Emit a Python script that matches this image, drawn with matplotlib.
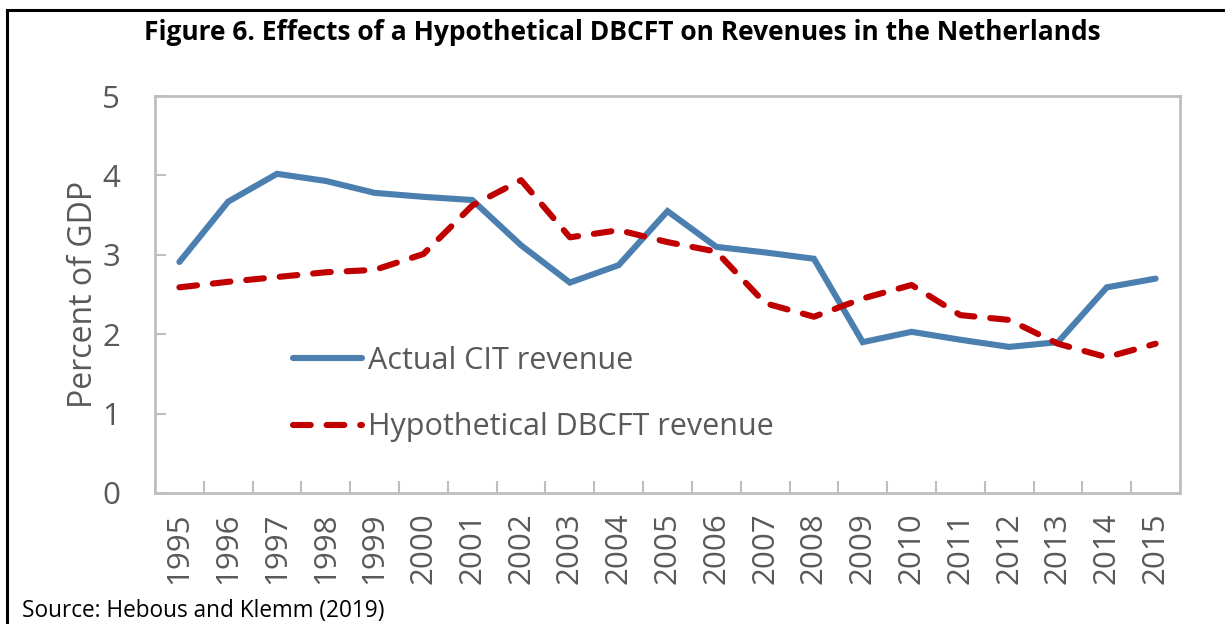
import matplotlib
matplotlib.use("Agg")
import matplotlib.pyplot as plt
from matplotlib.lines import Line2D

years = [str(y) for y in range(1995, 2016)]
actual_cit = [2.91, 3.67, 4.02, 3.93, 3.78, 3.73, 3.69, 3.12, 2.65, 2.87, 3.55,
              3.10, 3.03, 2.95, 1.90, 2.03, 1.93, 1.84, 1.90, 2.59, 2.70]
hypo_dbcft = [2.59, 2.66, 2.72, 2.78, 2.81, 3.01, 3.62, 3.94, 3.22, 3.31, 3.16,
              3.04, 2.39, 2.22, 2.45, 2.62, 2.24, 2.18, 1.88, 1.71, 1.88]
yticks = [0, 1, 2, 3, 4, 5]

TXT = "#595959"
SPINE = "#bfbfbf"
plt.rcParams['font.family'] = ['Open Sans', 'DejaVu Sans']

fig = plt.figure(figsize=(12.25, 6.24), dpi=100)
ax = fig.add_axes([155/1225, 1-493/624, (1180-155)/1225, (493-96)/624])

x = list(range(len(years)))
ax.plot(x, actual_cit, color="#4a7fb0", lw=4.4, solid_capstyle="round",
        solid_joinstyle="miter", label="Actual CIT revenue")
ax.plot(x, hypo_dbcft, color="#c00000", lw=4.4, dashes=(2.9, 2.6),
        dash_capstyle="round", label="Hypothetical DBCFT revenue")

ax.set_xlim(-0.5, len(years)-0.5)
ax.set_ylim(0, 5)
ax.set_yticks(yticks)
ax.set_yticklabels([str(v) for v in yticks])
ax.set_xticks(x)
ax.set_xticklabels(years, rotation=90)
ax.set_xticks([i-0.5 for i in range(len(years)+1)], minor=True)
ax.tick_params(axis='x', which='major', length=0, pad=14, labelsize=22.5, labelcolor=TXT)
ax.tick_params(axis='x', which='minor', length=9, width=1.5, color=SPINE, direction='in')
ax.tick_params(axis='y', which='major', length=8, width=1.5, color=SPINE, direction='in',
               pad=25, labelsize=22.5, labelcolor=TXT)
for s in ax.spines.values():
    s.set_color(SPINE)
    s.set_linewidth(2)
ax.set_ylabel("Percent of GDP", fontsize=23, color=TXT, labelpad=1.5)

leg = ax.legend(loc='upper left', bbox_to_anchor=(0.1346, 0.370), frameon=False,
                fontsize=22, handlelength=2.25, handletextpad=0.2, labelspacing=1.19,
                borderpad=0, borderaxespad=0)
for t in leg.get_texts():
    t.set_color(TXT)

fig.text(622/1225, 1-33/624, "Figure 6. Effects of a Hypothetical DBCFT on Revenues in the Netherlands",
         ha='center', va='center', fontsize=19, fontweight='bold', color='black')
fig.text(22/1225, 1-611/624, "Source: Hebous and Klemm (2019)", ha='left', va='center',
         fontsize=16.3, color='black')

fig.add_artist(Line2D([7/1225, 1], [1-10/624, 1-10/624], transform=fig.transFigure,
                      color='black', lw=2.2))
fig.add_artist(Line2D([7/1225, 7/1225], [0, 1-10/624], transform=fig.transFigure,
                      color='black', lw=2.2))

fig.savefig("out.png", dpi=100)
